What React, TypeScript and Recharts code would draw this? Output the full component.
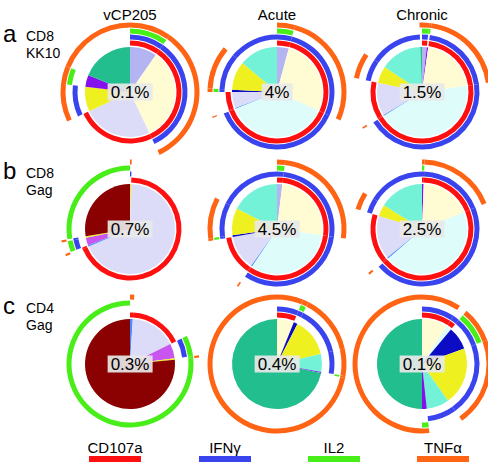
import { PieChart, Pie, Cell } from "recharts";

type Slice = { v: number; f: string; c?: string };

// columns, rows, and the per-pie frequency labels
const COLUMNS = ["vCP205", "Acute", "Chronic"];
const ROW_LETTERS = ["a", "b", "c"];
const ROW_SUBSETS = ["CD8", "CD8", "CD4"];
const ROW_ANTIGENS = ["KK10", "Gag", "Gag"];
const FREQUENCIES = [
  ["0.1%", "4%", "1.5%"],
  ["0.7%", "4.5%", "2.5%"],
  ["0.3%", "0.4%", "0.1%"],
];

// functions: R = CD107a, B = IFNg, I = IL2, T = TNFa
const FUNCTIONS = ["CD107a", "IFNγ", "IL2", "TNFα"];
const FUNCTION_CODES = ["R", "B", "I", "T"];

// slices clockwise from 12 o'clock, % of responding cells
const KK10_VCP205: Slice[] = [
  { v: 9.7, f: "RBIT" },
  { v: 33.3, f: "RBT" },
  { v: 25, f: "R" },
  { v: 8.9, f: "BT" },
  { v: 4.2, f: "IT" },
  { v: 18.9, f: "T" },
];
const KK10_ACUTE: Slice[] = [
  { v: 4.2, f: "RBIT" },
  { v: 27.5, f: "RBT" },
  { v: 37.2, f: "RB" },
  { v: 0.3, f: "RT" },
  { v: 5.8, f: "R" },
  { v: 0.8, f: "BIT" },
  { v: 10.3, f: "BT" },
  { v: 13.9, f: "B" },
];
const KK10_CHRONIC: Slice[] = [
  { v: 1.7, f: "RBIT" },
  { v: 0.5, f: "IT" },
  { v: 20.6, f: "RBT" },
  { v: 43.3, f: "RB" },
  { v: 0.4, f: "RT" },
  { v: 11.8, f: "R" },
  { v: 6.1, f: "BT" },
  { v: 15, f: "B" },
  { v: 0.6, f: "T" },
];
const GAG8_VCP205: Slice[] = [
  { v: 0.4, f: "BT" },
  { v: 68.2, f: "R" },
  { v: 0.5, f: "RT" },
  { v: 2.8, f: "BI" },
  { v: 0.5, f: "BT" },
  { v: 27.6, f: "I" },
];
const GAG8_ACUTE: Slice[] = [
  { v: 1.9, f: "RBIT" },
  { v: 25.3, f: "RBT" },
  { v: 32.2, f: "RB" },
  { v: 0.4, f: "RT" },
  { v: 12.4, f: "R" },
  { v: 0.6, f: "BIT" },
  { v: 9.7, f: "BT" },
  { v: 17.5, f: "B" },
];
const GAG8_CHRONIC: Slice[] = [
  { v: 0.6, f: "RBIT", c: "IT" },
  { v: 18.3, f: "RBT" },
  { v: 44.7, f: "RB" },
  { v: 0.5, f: "RT" },
  { v: 15.6, f: "R" },
  { v: 4.2, f: "BT" },
  { v: 16.1, f: "B" },
];
const GAG4_VCP205: Slice[] = [
  { v: 1.0, f: "RT" },
  { v: 16.7, f: "R" },
  { v: 5.3, f: "BI" },
  { v: 0.5, f: "IT", c: "BT" },
  { v: 76.5, f: "I" },
];
const GAG4_ACUTE: Slice[] = [
  { v: 6.1, f: "RBT" },
  { v: 1.4, f: "BIT" },
  { v: 13.9, f: "BT" },
  { v: 6.4, f: "BT", c: "B" },
  { v: 0.4, f: "IT" },
  { v: 71.8, f: "T" },
];
const GAG4_CHRONIC: Slice[] = [
  { v: 9.2, f: "RBT" },
  { v: 1.9, f: "RB" },
  { v: 8.3, f: "BIT" },
  { v: 20.8, f: "BT" },
  { v: 8.1, f: "B" },
  { v: 1.7, f: "IT" },
  { v: 50, f: "T" },
];

const PIES = [
  [KK10_VCP205, KK10_ACUTE, KK10_CHRONIC],
  [GAG8_VCP205, GAG8_ACUTE, GAG8_CHRONIC],
  [GAG4_VCP205, GAG4_ACUTE, GAG4_CHRONIC],
];

const SLICE_COLORS: Record<string, string> = {
  RBIT: "#b4b4f2",
  RBT: "#fffcd4",
  RB: "#ddfcfa",
  R: "#dcdcf9",
  RT: "#4a8cff",
  BT: "#eef020",
  B: "#74f2d8",
  BIT: "#0c0cc4",
  BI: "#c855f0",
  IT: "#8410ee",
  I: "#8b0000",
  T: "#22be8e",
};
const FUNCTION_COLORS = ["#ff1010", "#3a44ee", "#48ee18", "#ff6414"];

const COL_X = [130, 277, 422];
const ROW_Y = [92, 229, 364];
const PIE_R = 45;
const RING_R = [
  [46.5, 51.5],
  [52.5, 57.5],
  [58.5, 63.5],
  [64.5, 69.5],
];

export default function App() {
  const series: JSX.Element[] = [];
  PIES.forEach((row, ri) =>
    row.forEach((slices, ci) => {
      const cx = COL_X[ci];
      const cy = ROW_Y[ri];
      series.push(
        <Pie
          key={`pie-${ri}-${ci}`}
          data={slices}
          dataKey="v"
          cx={cx}
          cy={cy}
          innerRadius={0}
          outerRadius={PIE_R}
          startAngle={90}
          endAngle={-270}
          stroke="none"
          isAnimationActive={false}
        >
          {slices.map((s, i) => (
            <Cell key={i} fill={SLICE_COLORS[s.c ?? s.f]} />
          ))}
        </Pie>
      );
      FUNCTION_CODES.forEach((code, fi) => {
        series.push(
          <Pie
            key={`ring-${ri}-${ci}-${fi}`}
            data={slices}
            dataKey="v"
            cx={cx}
            cy={cy}
            innerRadius={RING_R[fi][0]}
            outerRadius={RING_R[fi][1]}
            startAngle={90}
            endAngle={-270}
            stroke="none"
            isAnimationActive={false}
          >
            {slices.map((s, i) => (
              <Cell
                key={i}
                fill={s.f.includes(code) ? FUNCTION_COLORS[fi] : "transparent"}
              />
            ))}
          </Pie>
        );
      });
    })
  );

  const legendX = [115, 225, 334, 443];

  return (
    <div
      style={{
        position: "absolute",
        left: 0,
        top: 0,
        width: 488,
        height: 462,
        background: "#fff",
        fontFamily: "'Liberation Sans', Arial, Helvetica, sans-serif",
        color: "#000",
        overflow: "hidden",
      }}
    >
      <div style={{ position: "absolute", left: 0, top: 0 }}>
        <PieChart
          width={488}
          height={462}
          margin={{ top: 0, right: 0, bottom: 0, left: 0 }}
        >
          {series}
        </PieChart>
      </div>

      <svg
        width={488}
        height={462}
        style={{ position: "absolute", left: 0, top: 0, pointerEvents: "none" }}
      >
        {COLUMNS.map((c, i) => (
          <text key={c} x={COL_X[i]} y={20} textAnchor="middle" fontSize={15}>
            {c}
          </text>
        ))}
        {ROW_LETTERS.map((l, i) => (
          <g key={l}>
            <text x={3} y={ROW_Y[i] - 50} fontSize={24}>
              {l}
            </text>
            <text x={26} y={ROW_Y[i] - 51} fontSize={14}>
              {ROW_SUBSETS[i]}
            </text>
            <text x={26} y={ROW_Y[i] - 34} fontSize={14}>
              {ROW_ANTIGENS[i]}
            </text>
          </g>
        ))}
        {FUNCTIONS.map((f, i) => (
          <g key={f}>
            <text x={legendX[i]} y={453} textAnchor="middle" fontSize={15}>
              {f}
            </text>
            <rect
              x={legendX[i] - 26}
              y={456}
              width={52}
              height={6}
              fill={FUNCTION_COLORS[i]}
            />
          </g>
        ))}
      </svg>

      {FREQUENCIES.map((row, ri) =>
        row.map((label, ci) => (
          <div
            key={`${ri}-${ci}`}
            style={{
              position: "absolute",
              left: COL_X[ci],
              top: ROW_Y[ri],
              transform: "translate(-50%, -50%)",
              background: "rgba(232,232,232,0.92)",
              padding: "0 3px",
              fontSize: 17,
              lineHeight: "17px",
              whiteSpace: "nowrap",
            }}
          >
            {label}
          </div>
        ))
      )}
    </div>
  );
}
